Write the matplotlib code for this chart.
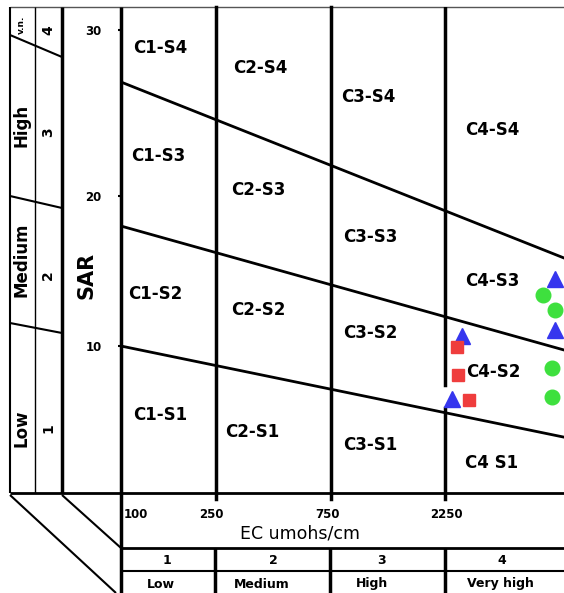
import numpy as np
import matplotlib.pyplot as plt

# EC class limits (umohs/cm) and SAR tick values
ec_ticks = [100, 250, 750, 2250]
sar_ticks = [10, 20, 30]

# class boundary lines: SAR at left (EC=100) and right (EC=7020) edges
ec_edges = [100, 7020]
s1_s2 = [10.0, 3.8]
s2_s3 = [18.0, 9.73]
s3_s4 = [26.87, 15.87]

# samples
tri_ec = [6430, 2640, 6430, 2390]
tri_sar = [14.5, 10.7, 11.1, 6.4]
sq_ec = [2510, 2535, 2820]
sq_sar = [9.9, 8.0, 6.3]
cir_ec = [5730, 6430, 6250, 6250]
cir_sar = [13.4, 12.4, 8.5, 6.5]

# class labels
class_names = ["C1-S4", "C2-S4", "C3-S4", "C4-S4",
               "C1-S3", "C2-S3", "C3-S3", "C4-S3",
               "C1-S2", "C2-S2", "C3-S2", "C4-S2",
               "C1-S1", "C2-S1", "C3-S1", "C4 S1"]
class_xy = [(160, 48), (260, 68), (368, 97), (492, 130),
            (158, 156), (258, 190), (370, 237), (492, 281),
            (155, 294), (258, 310), (370, 333), (493, 372),
            (160, 415), (252, 432), (370, 445), (492, 463)]

sodium_names = ["v.n.", "High", "Medium", "Low"]
sodium_nums = ["4", "3", "2", "1"]
salinity_nums = ["1", "2", "3", "4"]
salinity_names = ["Low", "Medium", "High", "Very high"]

plt.rcParams['font.family'] = 'DejaVu Sans'
fig = plt.figure(figsize=(5.64, 5.93), dpi=100)

# background axes in pixel units for the frame and table
bg = fig.add_axes([0, 0, 1, 1])
bg.set_xlim(0, 564)
bg.set_ylim(593, 0)
bg.axis('off')

def seg(x0, y0, x1, y1, lw=2, c='black'):
    bg.plot([x0, x1], [y0, y1], color=c, lw=lw, solid_capstyle='butt')

seg(10, 7, 564, 7, lw=1, c='#555555')
seg(10, 493, 564, 493, lw=2)
seg(10, 7, 10, 493, lw=1.5)
seg(35, 7, 35, 493, lw=1)
seg(62, 7, 62, 493, lw=2.5)
seg(121, 7, 121, 593, lw=2.5)
seg(121, 548, 564, 548, lw=2)
seg(121, 571, 564, 571, lw=1.5)
for xp in [215, 330, 445]:
    seg(xp, 548, xp, 593, lw=2.5)
seg(10, 495, 116, 593, lw=1.5)
seg(62, 495, 121, 548, lw=1.5)
seg(10, 35, 62, 57, lw=1.5)
seg(10, 196, 62, 208, lw=1.5)
seg(10, 323, 62, 333, lw=1.5)

# left hazard labels
for name, yp, fs in zip(sodium_names, [25, 125, 260, 428], [6.5, 12, 12, 12]):
    bg.text(21, yp, name, rotation=90, ha='center', va='center',
            fontsize=fs, fontweight='bold')
for num, yp in zip(sodium_nums, [30, 132, 275, 428]):
    bg.text(48, yp, num, rotation=90, ha='center', va='center',
            fontsize=10, fontweight='bold')
bg.text(87, 275, "SAR", rotation=90, ha='center', va='center',
        fontsize=15, fontweight='bold')

# EC axis labels
for lab, xp in zip(ec_ticks, [136, 211, 327, 446]):
    bg.text(xp, 515, str(lab), ha='center', va='center', fontsize=8.5,
            fontweight='bold')
bg.text(300, 533, "EC umohs/cm", ha='center', va='center', fontsize=12.5)

for num, xp in zip(salinity_nums, [167, 273, 382, 502]):
    bg.text(xp, 560, num, ha='center', va='center', fontsize=9,
            fontweight='bold')
for name, xp in zip(salinity_names, [161, 262, 372, 500]):
    bg.text(xp, 584, name, ha='center', va='center', fontsize=9,
            fontweight='bold')

for name, (xp, yp) in zip(class_names, class_xy):
    bg.text(xp, yp, name, ha='center', va='center', fontsize=12,
            fontweight='bold')

# main diagram axes: log EC, SAR with the picture's uneven spacing
sar_k = np.array([-5, 0, 10, 20, 30, 40])
px_k = np.array([566.5, 493, 346, 196, 30, -136])

def fwd(s):
    return np.interp(s, sar_k, -px_k)

def inv(v):
    return np.interp(v, -px_k, sar_k)

ax = fig.add_axes([121 / 564, 1 - 493 / 593, 443 / 564, 486 / 593])
ax.patch.set_visible(False)
ax.set_xscale('log')
ax.set_yscale('function', functions=(fwd, inv))
ax.set_xlim(100, 7020)
ax.set_ylim(0, 31.39)
for sp in ax.spines.values():
    sp.set_visible(False)
ax.set_xticks([])
ax.minorticks_off()
ax.set_xticks([], minor=True)
ax.set_yticks(sar_ticks)
ax.set_yticklabels([str(v) for v in sar_ticks], fontsize=8.5, fontweight='bold')
ax.tick_params(axis='y', length=2, width=1.5, pad=12)

for ec in ec_ticks[1:3]:
    ax.axvline(ec, ymin=-0.012, ymax=1, color='black', lw=2.5, clip_on=False)
ax.axvline(ec_ticks[3], ymin=0.222, ymax=1, color='black', lw=2.5)
ax.axvline(ec_ticks[3], ymin=-0.012, ymax=0.175, color='black', lw=2.5,
           clip_on=False)

for line in [s1_s2, s2_s3, s3_s4]:
    ax.plot(ec_edges, line, color='black', lw=2)

ax.plot(tri_ec, tri_sar, '^', ms=11.5, color='#3636ee', ls='none', clip_on=False)
ax.plot(sq_ec, sq_sar, 's', ms=8.5, color='#ef3d3d', ls='none', clip_on=False)
ax.plot(cir_ec, cir_sar, 'o', ms=10.5, color='#3ee03e', ls='none', clip_on=False)

fig.savefig('out.png', dpi=100)
